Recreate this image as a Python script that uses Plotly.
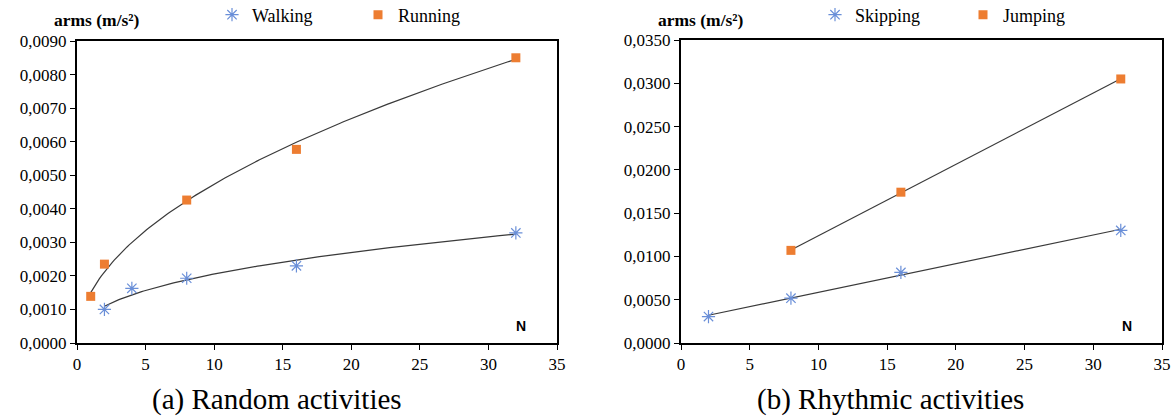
import numpy as np
import plotly.graph_objects as go

# ---- data ----
walk_n = [2, 4, 8, 16, 32]
walk_a = [0.00100, 0.00163, 0.00193, 0.00230, 0.00328]
run_n = [1, 2, 8, 16, 32]
run_a = [0.00139, 0.00235, 0.00426, 0.00577, 0.00850]
skip_n = [2, 8, 16, 32]
skip_a = [0.00305, 0.00518, 0.00815, 0.01300]
jump_n = [8, 16, 32]
jump_a = [0.01070, 0.01742, 0.03050]

BLUE = "#6A8FD8"
ORANGE = "#ED7D31"
TREND = "#3A3A3A"
SERIF = "Liberation Serif"
SANS = "Liberation Sans"

def power_fit(x, y):
    b, lna = np.polyfit(np.log(x), np.log(y), 1)
    xs = np.linspace(min(x), max(x), 200)
    return xs, np.exp(lna) * xs ** b

def lin_fit(x, y):
    m, c = np.polyfit(x, y, 1)
    xs = np.array([min(x), max(x)], dtype=float)
    return xs, m * xs + c

fig = go.Figure()

for xx, yy in [power_fit(run_n, run_a), power_fit(walk_n, walk_a)]:
    fig.add_trace(go.Scatter(x=xx, y=yy, mode="lines", line=dict(color=TREND, width=1.2),
                             showlegend=False, hoverinfo="skip", xaxis="x", yaxis="y"))
for xx, yy in [lin_fit(jump_n, jump_a), lin_fit(skip_n, skip_a)]:
    fig.add_trace(go.Scatter(x=xx, y=yy, mode="lines", line=dict(color=TREND, width=1.2),
                             showlegend=False, hoverinfo="skip", xaxis="x2", yaxis="y2"))

ast = dict(symbol="asterisk-open", size=11, color=BLUE, line=dict(color=BLUE, width=1.2))
sq = dict(symbol="square", size=9, color=ORANGE)

fig.add_trace(go.Scatter(x=walk_n, y=walk_a, mode="markers", name="Walking", marker=ast,
                         xaxis="x", yaxis="y", legend="legend"))
fig.add_trace(go.Scatter(x=run_n, y=run_a, mode="markers", name="Running", marker=sq,
                         xaxis="x", yaxis="y", legend="legend"))
fig.add_trace(go.Scatter(x=skip_n, y=skip_a, mode="markers", name="Skipping", marker=ast,
                         xaxis="x2", yaxis="y2", legend="legend2"))
fig.add_trace(go.Scatter(x=jump_n, y=jump_a, mode="markers", name="Jumping", marker=sq,
                         xaxis="x2", yaxis="y2", legend="legend2"))

W, H = 1175, 419
def px(v): return v / W
def py(v): return 1 - v / H

axis_common = dict(showline=True, linecolor="black", linewidth=2, mirror=True,
                   ticks="outside", ticklen=5, tickcolor="black", tickwidth=1,
                   showgrid=False, zeroline=False, automargin=False,
                   tickfont=dict(family=SERIF, size=17, color="black"))

def legend_cfg(x, ew):
    return dict(orientation="h", font=dict(family=SERIF, size=18, color="black"),
                bgcolor="rgba(0,0,0,0)", yanchor="middle", xanchor="left",
                x=x, y=py(15), entrywidth=ew, entrywidthmode="pixels",
                itemwidth=30, tracegroupgap=0)

def ann(text, x, y, family, size):
    return dict(text=text, x=px(x), y=py(y), xref="paper", yref="paper",
                xanchor="center", yanchor="middle", showarrow=False,
                font=dict(family=family, size=size, color="black"))

fig.update_layout(
    width=W, height=H, margin=dict(l=0, r=0, t=0, b=0, autoexpand=False),
    paper_bgcolor="white", plot_bgcolor="white",
    separators=",.",
    xaxis=dict(domain=[px(77), px(557)], range=[0, 35], dtick=5, anchor="y", **axis_common),
    yaxis=dict(domain=[py(343), py(41)], range=[0, 0.009], dtick=0.001, tickformat=".4f",
               anchor="x", **axis_common),
    xaxis2=dict(domain=[px(681), px(1162)], range=[0, 35], dtick=5, anchor="y2", **axis_common),
    yaxis2=dict(domain=[py(343), py(40)], range=[0, 0.035], dtick=0.005, tickformat=".4f",
                anchor="x2", **axis_common),
    legend=legend_cfg(px(212), 101),
    legend2=legend_cfg(px(815), 103),
    annotations=[
        ann("<b>arms (m/s²)</b>", 97, 20, SERIF, 17.5),
        ann("<b>arms (m/s²)</b>", 701, 20, SERIF, 17.5),
        ann("<b>N</b>", 521, 326, SANS, 14),
        ann("<b>N</b>", 1127, 326, SANS, 14),
        ann("(a) Random activities", 277, 399, SERIF, 29),
        ann("(b) Rhythmic activities", 890, 399, SERIF, 29),
    ],
)

fig.write_html("out.html",
               post_script="document.body.style.margin='0';document.body.style.overflow='hidden';")
